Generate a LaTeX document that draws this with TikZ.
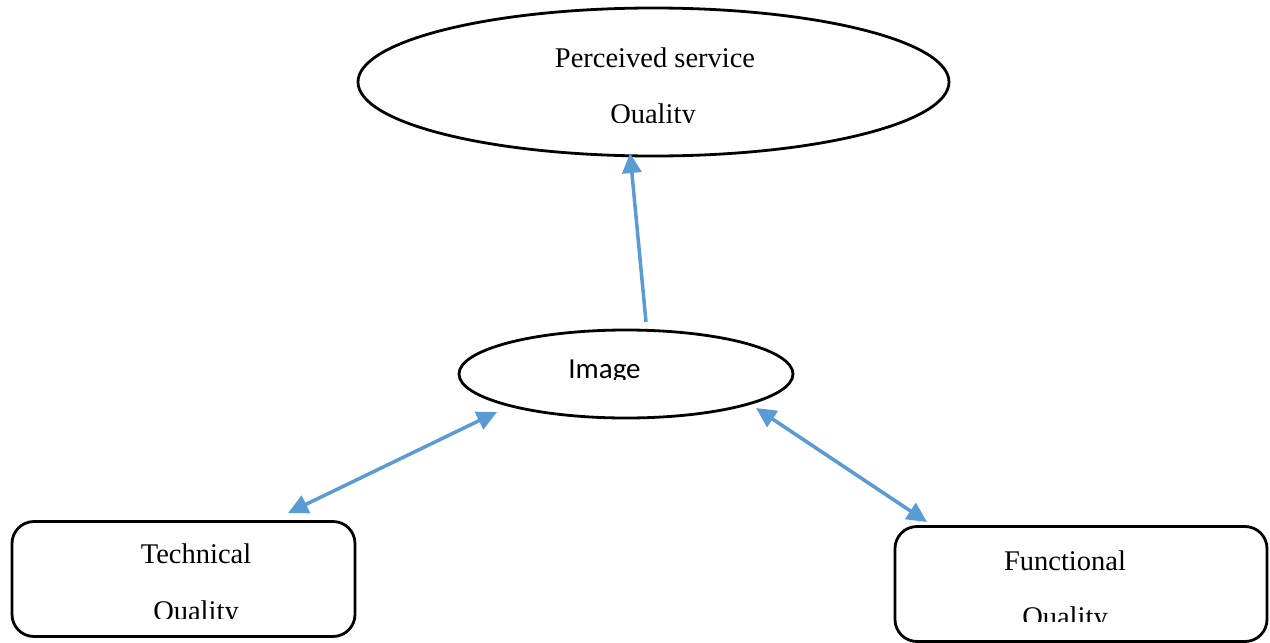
\documentclass[tikz,border=0pt]{standalone}
\usepackage{fontspec}
\setmainfont{Liberation Serif}
\newfontfamily\calib{Carlito}
\usetikzlibrary{shapes.geometric,arrows.meta}
\definecolor{arrowblue}{HTML}{5B9BD5}
\begin{document}
\begin{tikzpicture}[x=1pt,y=-1pt,
  oval/.style={draw=black, line width=2.8pt, ellipse, inner sep=0pt},
  box/.style={draw=black, line width=2.8pt, rounded corners=22pt, inner sep=0pt},
  lbl/.style={inner sep=0pt, anchor=base, font=\fontsize{28.5}{34}\selectfont},
  slbl/.style={inner sep=0pt, anchor=base, font=\calib\fontsize{29}{34}\selectfont},
  link/.style={draw=arrowblue, line width=3.5pt, -{Triangle[length=20pt,width=19pt]}},
  dlink/.style={draw=arrowblue, line width=3.5pt, {Triangle[length=20pt,width=19pt]}-{Triangle[length=20pt,width=19pt]}}
]
\useasboundingbox (0,0) rectangle (1270,643);
% shapes
\node[oval, minimum width=591pt, minimum height=148pt] (pq) at (653.5,82) {};
\node[oval, minimum width=334pt, minimum height=88pt] (img) at (626,374) {};
\node[box, minimum width=343pt, minimum height=115pt] (tq) at (183.5,579) {};
\node[box, minimum width=372pt, minimum height=115pt] (fq) at (1081,584) {};
% labels
\node[lbl] (pq1) at (655,67) {Perceived service};
\node[lbl] (tq1) at (196,563) {Technical};
\node[lbl] (fq1) at (1065,570) {Functional};
\begin{scope}
\clip (0,0) rectangle (1270,122);
\node[lbl] (pq2) at (653,123) {Quality};
\end{scope}
\begin{scope}
\clip (0,0) rectangle (1270,379);
\node[slbl] (img1) at (604.5,378) {Image};
\end{scope}
\begin{scope}
\clip (0,0) rectangle (1270,618);
\node[lbl] (tq2) at (196,620) {Quality};
\end{scope}
\begin{scope}
\clip (0,0) rectangle (1270,621);
\node[lbl] (fq2) at (1065,626) {Quality};
\end{scope}
% connector end points
\coordinate (a1) at (646,322);
\coordinate (a2) at (630,153);
\coordinate (b1) at (288,513);
\coordinate (b2) at (497,412);
\coordinate (c1) at (756,408);
\coordinate (c2) at (927,522);
\draw[link] (a1) -- (a2);
\draw[dlink] (b1) -- (b2);
\draw[dlink] (c1) -- (c2);
\end{tikzpicture}
\end{document}
